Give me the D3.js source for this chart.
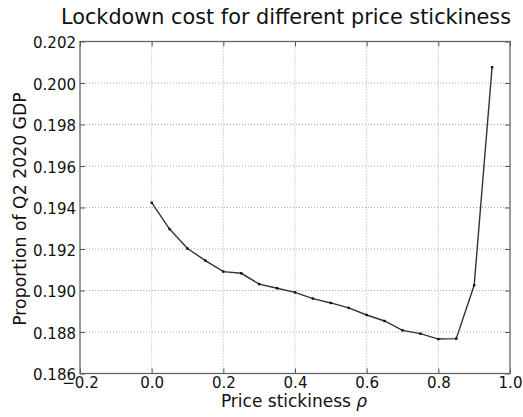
<!DOCTYPE html>
<html>
<head>
<meta charset="utf-8">
<script src="https://cdnjs.cloudflare.com/ajax/libs/d3/7.8.5/d3.min.js"></script>
<style>
  body { margin: 0; background: #fff; }
  text { font-family: "DejaVu Sans", sans-serif; fill: #111; }
</style>
</head>
<body>
<svg id="chart" width="523" height="417"></svg>
<script>
// price stickiness values and lockdown cost
var rho = [0, 0.05, 0.1, 0.15, 0.2, 0.25, 0.3, 0.35, 0.4, 0.45, 0.5, 0.55, 0.6, 0.65, 0.7, 0.75, 0.8, 0.85, 0.9, 0.95];
var cost = [0.19423, 0.19296, 0.19202, 0.19144, 0.19091, 0.19083, 0.19031, 0.19011, 0.18991, 0.18961,
            0.18940, 0.18916, 0.18882, 0.18853, 0.18808, 0.18792, 0.18766, 0.18768, 0.19025, 0.20076];
var xTicks = [-0.2, 0.0, 0.2, 0.4, 0.6, 0.8, 1.0];
var yTicks = [0.186, 0.188, 0.190, 0.192, 0.194, 0.196, 0.198, 0.200, 0.202];

var svg = d3.select("#chart");
var pLeft = 80, pRight = 510, pTop = 41.5, pBottom = 373.5;

var x = d3.scaleLinear().domain([-0.2, 1.0]).range([pLeft, pRight]);
var y = d3.scaleLinear().domain([0.186, 0.202]).range([pBottom, pTop]);

// grid
svg.append("g").selectAll("line").data(xTicks.slice(1, -1)).enter().append("line")
  .attr("x1", d => x(d)).attr("x2", d => x(d)).attr("y1", pTop).attr("y2", pBottom)
  .attr("stroke", "#aaa").attr("stroke-width", 1).attr("stroke-dasharray", "1,2");
svg.append("g").selectAll("line").data(yTicks.slice(1, -1)).enter().append("line")
  .attr("y1", d => y(d)).attr("y2", d => y(d)).attr("x1", pLeft).attr("x2", pRight)
  .attr("stroke", "#aaa").attr("stroke-width", 1).attr("stroke-dasharray", "1,2");

// axes with inward ticks
var fmtX = function(d) { return d3.format(".1f")(d).replace("-", "\u2212"); };
var xAxis = svg.append("g").attr("transform", "translate(0," + pBottom + ")")
  .call(d3.axisBottom(x).tickValues(xTicks).tickFormat(fmtX).tickSizeInner(-5).tickSizeOuter(0).tickPadding(4));
var xAxisTop = svg.append("g").attr("transform", "translate(0," + pTop + ")")
  .call(d3.axisTop(x).tickValues(xTicks).tickFormat("").tickSizeInner(-5).tickSizeOuter(0));
var yAxis = svg.append("g").attr("transform", "translate(" + pLeft + ",0)")
  .call(d3.axisLeft(y).tickValues(yTicks).tickFormat(d3.format(".3f")).tickSizeInner(-5).tickSizeOuter(0).tickPadding(4));
var yAxisRight = svg.append("g").attr("transform", "translate(" + pRight + ",0)")
  .call(d3.axisRight(y).tickValues(yTicks).tickFormat("").tickSizeInner(-5).tickSizeOuter(0));

[xAxis, xAxisTop, yAxis, yAxisRight].forEach(function(g) {
  g.select(".domain").remove();
  g.selectAll(".tick line").attr("stroke", "#555");
  g.selectAll("text").style("font-size", "15px").style("font-family", "DejaVu Sans").attr("fill", "#111");
});
yAxis.selectAll("text").attr("dy", "0.4em");

// frame
svg.append("rect").attr("x", pLeft).attr("y", pTop).attr("width", pRight - pLeft).attr("height", pBottom - pTop)
  .attr("fill", "none").attr("stroke", "#666").attr("stroke-width", 1.3);

// line + markers
var line = d3.line().x((d, i) => x(rho[i])).y(d => y(d));
svg.append("path").datum(cost).attr("d", line)
  .attr("fill", "none").attr("stroke", "#333").attr("stroke-width", 1.4);
svg.append("g").selectAll("rect").data(cost).enter().append("rect")
  .attr("x", (d, i) => x(rho[i]) - 1.2).attr("y", d => y(d) - 1.2)
  .attr("width", 2.4).attr("height", 2.4).attr("fill", "#111");

// titles
svg.append("text").attr("x", 286).attr("y", 24).attr("text-anchor", "middle")
  .style("font-size", "20.8px").text("Lockdown cost for different price stickiness");
var xl = svg.append("text").attr("x", 294).attr("y", 407).attr("text-anchor", "middle")
  .style("font-size", "17px");
xl.append("tspan").text("Price stickiness ");
xl.append("tspan").style("font-style", "italic").text("\u03c1");
svg.append("text").attr("transform", "translate(26,209) rotate(-90)")
  .attr("text-anchor", "middle").style("font-size", "17.3px").text("Proportion of Q2 2020 GDP");
</script>
</body>
</html>
